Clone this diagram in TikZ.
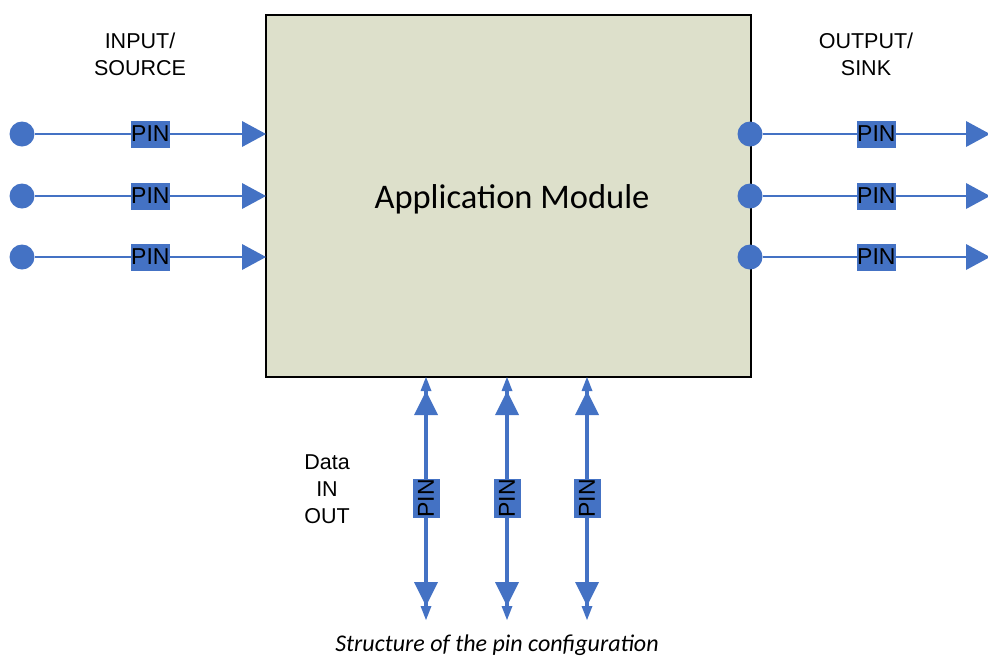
\documentclass[tikz,border=0pt]{standalone}
\usepackage{fontspec}
\setmainfont{Liberation Sans}
\newfontfamily\calibri{Carlito}
\usepackage{tikz}
\usetikzlibrary{arrows.meta}
\definecolor{pinblue}{HTML}{4472C4}
\definecolor{modfill}{HTML}{DDE0CB}
\tikzset{
  pindot/.style={circle,fill=pinblue,inner sep=0pt,minimum size=25pt},
  pinbox/.style={fill=pinblue,text=black,inner sep=0pt,minimum width=38pt,minimum height=27pt,font=\fontsize{23}{24}\selectfont},
  pinlabel/.style={align=center,font=\fontsize{21.5}{27}\selectfont},
  wire/.style={pinblue,line width=1.6pt},
  bus/.style={pinblue,line width=3.6pt},
  bigtip/.style={-{Triangle[length=24pt,width=26pt,line width=0pt]}},
  dbltip/.style={{Triangle[length=14pt,width=11pt,line width=0pt,sep=0pt]Triangle[length=24pt,width=24pt,line width=0pt,sep=0pt]}-{Triangle[length=24pt,width=24pt,line width=0pt,sep=0pt]Triangle[length=14pt,width=11pt,line width=0pt,sep=0pt]}}
}
% #1 = name, #2 = y
\newcommand{\inpin}[2]{\node[pindot] (src#1) at (22,#2) {}; \coordinate (in#1) at (266,#2); \draw[wire,bigtip] (src#1) -- node[pinbox] {PIN} (in#1);}
\newcommand{\outpin}[2]{\node[pindot] (out#1) at (750,#2) {}; \coordinate (sink#1) at (990,#2); \draw[wire,bigtip] (out#1) -- node[pinbox] {PIN} (sink#1);}
% #1 = name, #2 = x
\newcommand{\iopin}[2]{\coordinate (iotop#1) at (#2,377); \coordinate (iobot#1) at (#2,620); \draw[bus,dbltip] (iotop#1) -- node[pinbox,rotate=90] {PIN} (iobot#1);}

\begin{document}
\begin{tikzpicture}[x=1pt, y=-1pt]
        \useasboundingbox (0,0) rectangle (988,657);
        % module
        \node[draw, fill=modfill, line width=1.5pt, minimum width=485pt, minimum height=362pt, inner sep=0pt] (app) at (508.5,196) {};
        \node[font=\calibri\fontsize{34.5}{38}\selectfont] (apptitle) at (512,199) {Application Module};
        % inputs
        \node[pinlabel] (srclabel) at (140,54) {INPUT/\\SOURCE};
        \inpin{1}{134}
        \inpin{2}{196}
        \inpin{3}{257}
        % outputs
        \node[pinlabel] (sinklabel) at (866,54) {OUTPUT/\\SINK};
        \outpin{1}{134}
        \outpin{2}{196}
        \outpin{3}{257}
        % data lines
        \node[pinlabel] (iolabel) at (327,489) {Data\\IN\\OUT};
        \iopin{1}{426}
        \iopin{2}{507}
        \iopin{3}{587}
        % caption
        \node[font=\calibri\itshape\fontsize{24}{28}\selectfont] (caption) at (497,645) {Structure of the pin configuration};
    \end{tikzpicture}
\end{document}
